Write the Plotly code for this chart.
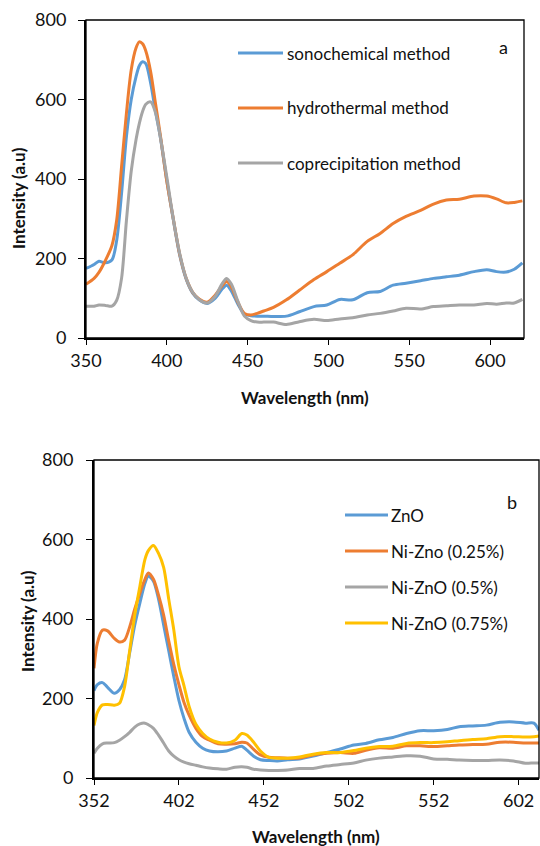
import plotly.graph_objects as go

# ---------------- Data: chart (a) ----------------
wl_a = [350, 355, 358, 362, 366, 369, 372, 375, 378, 381, 383, 385, 387, 390, 393, 396,
        400, 404, 408, 412, 416, 420, 425, 430, 434, 437, 440, 444, 448, 452, 456, 460,
        466, 474, 482, 491, 499, 507, 515, 524, 532, 540, 548, 557, 565, 573, 581, 590,
        598, 604, 610, 615, 620]
sono = [175, 185, 193, 189, 196, 246, 364, 506, 600, 658, 685, 695, 690, 641, 570, 505,
        395, 298, 208, 148, 113, 96, 87, 100, 122, 133, 118, 85, 60, 56, 55, 55,
        54, 55, 66, 79, 83, 97, 96, 114, 117, 133, 138, 144, 150, 154, 158, 167,
        172, 167, 166, 173, 189]
hydro = [135, 150, 165, 195, 232, 297, 431, 565, 675, 730, 745, 740, 722, 670, 590, 510,
         395, 300, 210, 150, 115, 98, 90, 108, 130, 142, 128, 90, 62, 58, 62, 68,
         77, 96, 120, 147, 167, 188, 209, 243, 263, 288, 306, 321, 337, 347, 349, 357,
         357, 350, 340, 341, 345]
copre = [80, 80, 83, 82, 80, 95, 150, 295, 420, 500, 540, 570, 588, 594, 567, 505,
         405, 300, 212, 150, 115, 97, 88, 105, 135, 150, 135, 92, 55, 44, 40, 40,
         40, 34, 41, 47, 44, 48, 51, 58, 62, 68, 75, 73, 79, 81, 83, 83,
         87, 85, 88, 88, 97]
names_a = ["sonochemical method", "hydrothermal method", "coprecipitation method"]

# ---------------- Data: chart (b) ----------------
wl_b = [352, 354, 357, 360, 364, 367, 370, 373, 376, 379, 382, 384, 387, 390, 393, 396,
        399, 402, 405, 408, 412, 416, 420, 425, 430, 435, 439, 442, 446, 450, 455, 460,
        466, 473, 481, 489, 497, 505, 512, 520, 528, 536, 544, 552, 560, 567, 575, 583,
        591, 599, 606, 611, 614]
zno = [220, 235, 240, 228, 213, 222, 247, 315, 385, 440, 490, 508, 495, 450, 385, 320,
       255, 195, 150, 115, 90, 75, 68, 66, 68, 75, 80, 70, 55, 46, 44, 43,
       46, 48, 55, 64, 73, 83, 87, 96, 102, 112, 119, 119, 122, 129, 131, 133,
       140, 141, 138, 138, 120]
ni025 = [276, 340, 372, 370, 351, 342, 347, 380, 425, 465, 500, 516, 500, 460, 410, 345,
         285, 235, 190, 158, 125, 104, 95, 86, 85, 86, 90, 88, 72, 58, 52, 51,
         50, 50, 58, 62, 64, 62, 70, 76, 75, 81, 81, 79, 81, 83, 84, 85,
         90, 90, 88, 88, 88]
ni05 = [62, 75, 86, 88, 89, 95, 104, 115, 128, 136, 138, 134, 125, 108, 88, 68,
        55, 46, 40, 36, 32, 28, 25, 23, 22, 27, 28, 27, 22, 20, 19, 19,
        20, 24, 24, 30, 34, 38, 45, 50, 53, 56, 55, 48, 47, 45, 44, 44,
        45, 43, 37, 38, 38]
ni075 = [132, 165, 184, 185, 183, 188, 230, 320, 410, 482, 550, 572, 585, 565, 530, 450,
         372, 280, 232, 180, 135, 112, 98, 90, 88, 95, 112, 108, 90, 68, 52, 50,
         50, 53, 60, 64, 64, 69, 75, 79, 80, 87, 89, 89, 91, 94, 97, 99,
         104, 104, 103, 104, 106]
names_b = ["ZnO", "Ni-Zno (0.25%)", "Ni-ZnO (0.5%)", "Ni-ZnO (0.75%)"]

y_ticks = [0, 200, 400, 600, 800]
x_ticks_a = [350, 400, 450, 500, 550, 600]
x_ticks_b = [352, 402, 452, 502, 552, 602]

colors = ["#5B9BD5", "#ED7D31", "#A5A5A5", "#FFC000"]

W, H = 540, 846
FONT = "Lato"
TXT = "#111111"

def px(x):
    return x / W

def py(y):
    return 1 - y / H

fig = go.Figure()
for name, ys, c in zip(names_a, [sono, hydro, copre], colors):
    fig.add_trace(go.Scatter(x=wl_a, y=ys, name=name, mode="lines",
                             line=dict(color=c, width=3, shape="spline", smoothing=0.8),
                             xaxis="x", yaxis="y", showlegend=False))
for name, ys, c in zip(names_b, [zno, ni025, ni05, ni075], colors):
    fig.add_trace(go.Scatter(x=wl_b, y=ys, name=name, mode="lines",
                             line=dict(color=c, width=3, shape="spline", smoothing=0.8),
                             xaxis="x2", yaxis="y2", showlegend=False))

axis_common = dict(showgrid=False, zeroline=False, showline=True, linecolor="black",
                   linewidth=2, ticks="outside", tickcolor="black", tickwidth=1,
                   tickfont=dict(family=FONT, size=18, color=TXT), automargin=False)

fig.update_layout(
    width=W, height=H, paper_bgcolor="white", plot_bgcolor="white",
    margin=dict(l=0, r=0, t=0, b=0), showlegend=False,
    xaxis=dict(domain=[px(86), px(524)], range=[350, 621], tickvals=x_ticks_a,
               anchor="y", ticklen=5, **axis_common),
    yaxis=dict(domain=[py(338), py(20)], range=[0, 800], tickvals=y_ticks,
               anchor="x", ticklen=6, ticklabelstandoff=8, **axis_common),
    xaxis2=dict(domain=[px(94), px(539)], range=[352, 614], tickvals=x_ticks_b,
                anchor="y2", ticklen=5, **axis_common),
    yaxis2=dict(domain=[py(778), py(460)], range=[0, 800], tickvals=y_ticks,
                anchor="x2", ticklen=6, ticklabelstandoff=9, **axis_common),
)

# frames (top and right borders)
for xr, yr in [("x domain", "y domain"), ("x2 domain", "y2 domain")]:
    fig.add_shape(type="rect", xref=xr, yref=yr, x0=0, x1=1, y0=0, y1=1,
                  line=dict(color="black", width=1.3), layer="above")

def txt(text, x, y, size=17, angle=0, xanchor="center"):
    return dict(text=text, x=px(x), y=py(y), xref="paper", yref="paper",
                xanchor=xanchor, yanchor="middle", showarrow=False, textangle=angle,
                font=dict(family=FONT, size=size, color=TXT))

annos = []
# axis titles
annos.append(txt("<b>Wavelength (nm)</b>", 305, 397))
annos.append(txt("<b>Wavelength (nm)</b>", 316, 836))
annos.append(txt("<b>Intensity (a.u)</b>", 18, 198, angle=-90))
annos.append(txt("<b>Intensity (a.u)</b>", 27, 621, angle=-90))
# panel letters
annos.append(txt("a", 503, 47, size=18))
annos.append(txt("b", 512, 502, size=18))

# manual legends (Excel style)
legend_a_rows = [53, 108, 163]
for name, c, yy in zip(names_a, colors, legend_a_rows):
    fig.add_shape(type="line", xref="paper", yref="paper", x0=px(238), x1=px(283),
                  y0=py(yy), y1=py(yy), line=dict(color=c, width=3))
    annos.append(txt(name, 285, yy, xanchor="left"))
legend_b_rows = [515, 551, 587, 623]
for name, c, yy in zip(names_b, colors, legend_b_rows):
    fig.add_shape(type="line", xref="paper", yref="paper", x0=px(345), x1=px(388),
                  y0=py(yy), y1=py(yy), line=dict(color=c, width=3))
    annos.append(txt(name, 389, yy, xanchor="left"))

fig.update_layout(annotations=annos)
fig.write_html("out.html", config={"displayModeBar": False},
               post_script="document.body.style.margin='0';")
